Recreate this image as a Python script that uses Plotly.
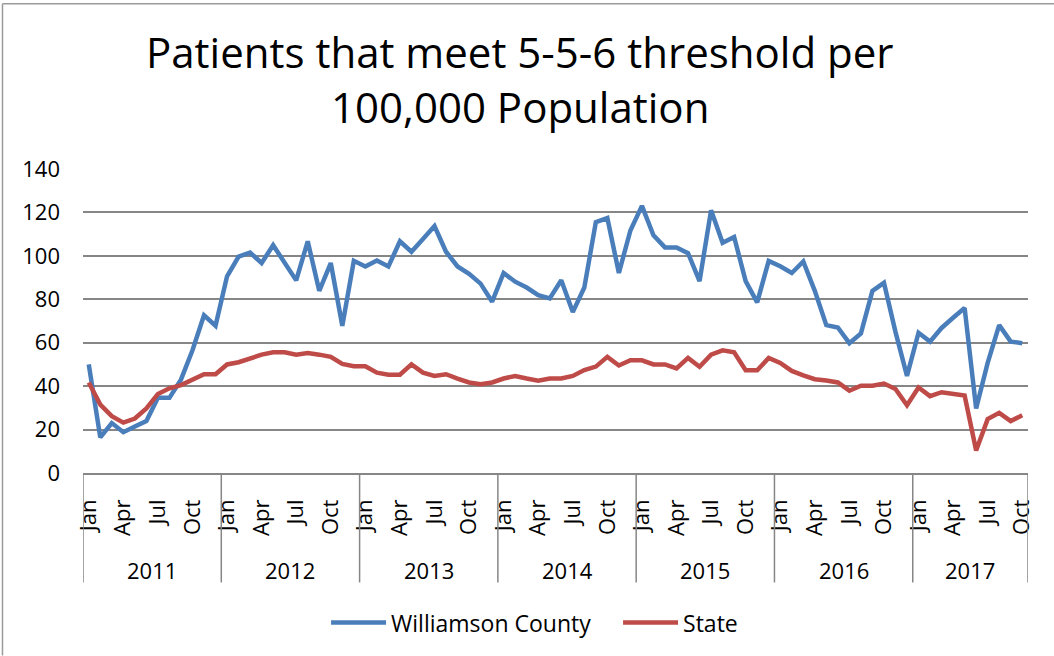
import plotly.graph_objects as go

years = ["2011", "2012", "2013", "2014", "2015", "2016", "2017"]
months_per_year = [12, 12, 12, 12, 12, 12, 10]
month_names = ["Jan", "Feb", "Mar", "Apr", "May", "Jun", "Jul", "Aug", "Sep", "Oct", "Nov", "Dec"]
shown_months = ["Jan", "Apr", "Jul", "Oct"]

williamson = [
    50, 16.4, 23, 18.8, 21.4, 23.9, 34.6, 34.6, 43, 56.5, 72.6, 67.8,
    90.6, 99.7, 101.5, 96.7, 104.9, 96.8, 88.7, 106.7, 83.9, 96.7, 67.8, 97.7,
    95.1, 97.9, 95.1, 106.7, 101.9, 107.8, 113.7, 101.9, 95.1, 91.7, 87.2, 78.9,
    92.1, 88.1, 85.4, 81.9, 80.4, 88.8, 74.1, 85.4, 115.5, 117.4, 92.1, 111.7,
    123.0, 109.5, 103.9, 103.9, 101.2, 88.4, 121.0, 106.0, 108.7, 88.4, 78.6, 97.7,
    95.2, 92.1, 97.4, 83.9, 68.1, 67.0, 59.8, 64.3, 83.9, 87.6, 65.0, 44.7,
    64.6, 60.5, 66.8, 71.5, 76.0, 29.7, 50.7, 68.1, 60.5, 59.8,
]
state = [
    41.7, 31.5, 26.2, 23.2, 25.1, 29.7, 36.4, 39.0, 40.5, 43.2, 45.5, 45.5,
    50.0, 51.0, 52.7, 54.5, 55.6, 55.6, 54.5, 55.3, 54.5, 53.5, 50.2, 49.2,
    49.2, 46.2, 45.3, 45.3, 50.0, 46.2, 44.7, 45.5, 43.5, 41.7, 40.9, 41.7,
    43.5, 44.7, 43.5, 42.5, 43.5, 43.5, 44.7, 47.4, 49.0, 53.5, 49.5, 51.9,
    51.9, 50.0, 50.0, 48.2, 53.0, 48.9, 54.5, 56.5, 55.6, 47.3, 47.3, 53.0,
    50.7, 47.0, 45.0, 43.2, 42.6, 41.7, 37.9, 40.2, 40.2, 41.2, 38.7, 31.2,
    39.4, 35.4, 37.2, 36.4, 35.7, 10.4, 24.8, 27.7, 23.9, 26.6,
]

# category positions
labels = []
for y, n in zip(years, months_per_year):
    for m in month_names[:n]:
        labels.append((y, m))
xs = list(range(len(labels)))
tickvals = [i for i, (y, m) in enumerate(labels) if m in shown_months]
ticktext = [labels[i][1] for i in tickvals]

FONT = "'Open Sans', Lato, sans-serif"
GRID = "#868686"

fig = go.Figure()
fig.add_trace(go.Scatter(x=xs, y=williamson, mode="lines", name="Williamson County",
                         line=dict(color="#4A7EBB", width=4.5)))
fig.add_trace(go.Scatter(x=xs, y=state, mode="lines", name="State",
                         line=dict(color="#BE4B48", width=4.5)))

# year group dividers and labels
shapes = []
annotations = []
start = 0
bounds = [-0.5]
for y, n in zip(years, months_per_year):
    end = start + n
    annotations.append(dict(x=(start + end - 1) / 2, y=-0.318, xref="x", yref="paper",
                            text=y, showarrow=False, font=dict(size=22, color="black", family=FONT),
                            xanchor="center", yanchor="middle"))
    bounds.append(end - 0.5)
    start = end
for b in bounds:
    shapes.append(dict(type="line", xref="x", yref="paper", x0=b, x1=b, y0=0, y1=-0.36,
                       line=dict(color=GRID, width=1.5)))

# chart border (left and top)
shapes.append(dict(type="line", xref="paper", yref="paper", x0=-0.0852, x1=-0.0852, y0=-0.6, y1=1.5435,
                   line=dict(color="#9a9a9a", width=1.5)))
shapes.append(dict(type="line", xref="paper", yref="paper", x0=-0.0852, x1=1.1, y0=1.5435, y1=1.5435,
                   line=dict(color="#9a9a9a", width=1.5)))

title_lines = ["Patients that meet 5-5-6 threshold per", "100,000 Population"]
annotations.append(dict(x=0.4624, y=1.387, xref="paper", yref="paper", text=title_lines[0],
                        showarrow=False, font=dict(size=42, color="black", family=FONT),
                        xanchor="center", yanchor="middle"))
annotations.append(dict(x=0.4624, y=1.206, xref="paper", yref="paper", text=title_lines[1],
                        showarrow=False, font=dict(size=42, color="black", family=FONT),
                        xanchor="center", yanchor="middle"))

fig.update_layout(
    width=1054, height=656,
    margin=dict(l=83, r=26, t=169, b=177),
    paper_bgcolor="white", plot_bgcolor="white",
    font=dict(family=FONT, color="black", size=22),
    showlegend=True,
    legend=dict(orientation="h", x=0.2572, y=-0.492, xanchor="left", yanchor="middle",
                font=dict(size=23, family=FONT, color="black"), itemwidth=55,
                entrywidth=222, bgcolor="rgba(0,0,0,0)"),
    shapes=shapes,
    annotations=annotations,
)
fig.update_xaxes(range=[-0.5, len(xs) - 0.5], tickmode="array", tickvals=tickvals, ticktext=ticktext,
                 tickangle=-90, showgrid=False, zeroline=False, showline=True, linecolor=GRID,
                 linewidth=1.5, ticks="", ticklabelstandoff=16, tickfont=dict(size=22, family=FONT),
                 automargin=False)
fig.update_yaxes(range=[0, 140], dtick=20, tick0=0, showgrid=True, gridcolor=GRID, gridwidth=1.5,
                 zeroline=False, showline=False, ticks="", ticklabelstandoff=22,
                 tickfont=dict(size=22, family=FONT), automargin=False)

fig.write_html("out.html", post_script="document.body.style.margin='0';",
               config={"displayModeBar": False})
